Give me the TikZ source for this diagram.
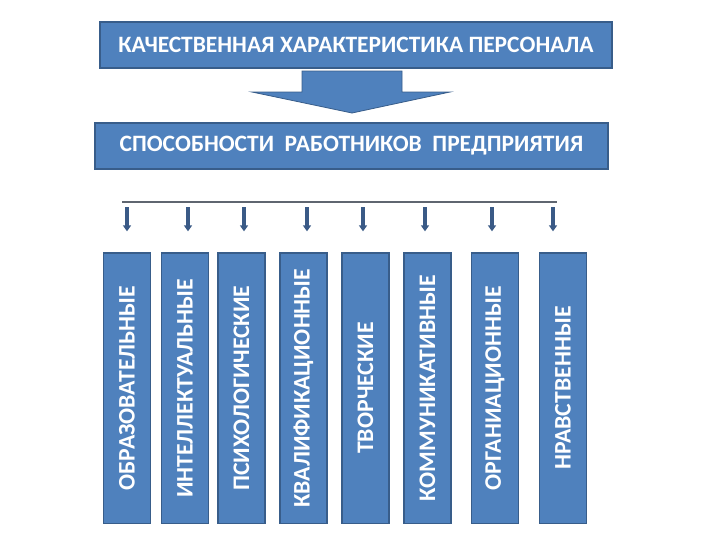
\documentclass[tikz,border=0pt]{standalone}
\usepackage{fontspec}
\setmainfont{Carlito}
\usetikzlibrary{arrows.meta}
\definecolor{boxblue}{HTML}{4F81BD}
\definecolor{boxedge}{HTML}{385D8A}
\definecolor{arrowblue}{HTML}{3A5A86}
\definecolor{linegray}{HTML}{5F6670}
\tikzset{
  headbox/.style={draw=boxedge, line width=1.2pt, fill=boxblue, text=white,
    font=\fontsize{17.6}{20}\selectfont\bfseries, minimum height=34.5pt, inner sep=0pt},
  colbox/.style={draw=boxedge, line width=1.2pt, fill=boxblue, text=white,
    font=\fontsize{17.8}{20}\selectfont\bfseries, minimum width=35pt, minimum height=203pt,
    inner sep=0pt, anchor=north},
  downarrow/.style={draw=arrowblue, line width=3pt, -{Triangle[length=4.5pt,width=6pt]}, shorten >=15.5pt}
}
\begin{document}
\begin{tikzpicture}[x=0.75pt,y=-0.75pt]
 	\useasboundingbox (0,0) rectangle (720,540);
 	% headers
 	\node[headbox, minimum width=384pt] (top) at (356,45) {КАЧЕСТВЕННАЯ ХАРАКТЕРИСТИКА ПЕРСОНАЛА};
 	\node[headbox, minimum width=385pt] (mid) at (351.5,146) {СПОСОБНОСТИ \ РАБОТНИКОВ \ ПРЕДПРИЯТИЯ};
 	\filldraw[fill=boxblue, draw=boxedge, line width=0.6pt]
 		(302,71) -- (302,92) -- (252,92) -- (352,113) -- (450,92) -- (402,92) -- (402,71) -- cycle;
 	% columns
 	\node[colbox] (b1) at (127,252) {\rotatebox{90}{ОБРАЗОВАТЕЛЬНЫЕ}};
 	\node[colbox] (b2) at (185,252) {\rotatebox{90}{ИНТЕЛЛЕКТУАЛЬНЫЕ}};
 	\node[colbox] (b3) at (241.5,252) {\rotatebox{90}{ПСИХОЛОГИЧЕСКИЕ}};
 	\node[colbox] (b4) at (303.5,252) {\rotatebox{90}{КВАЛИФИКАЦИОННЫЕ}};
 	\node[colbox] (b5) at (365.5,252) {\rotatebox{90}{ТВОРЧЕСКИЕ}};
 	\node[colbox] (b6) at (427.5,252) {\rotatebox{90}{КОММУНИКАТИВНЫЕ}};
 	\node[colbox] (b7) at (495,252) {\rotatebox{90}{ОРГАНИАЦИОННЫЕ}};
 	\node[colbox] (b8) at (563,252) {\rotatebox{90}{НРАВСТВЕННЫЕ}};
 	% distribution line
 	\coordinate (l0) at (122,202);
 	\coordinate (l9) at (557,202);
 	\draw[linegray, line width=0.9pt] (l0) -- (l9);
 	\coordinate (t1) at (127,207);
 	\coordinate (t2) at (188,207);
 	\coordinate (t3) at (244,207);
 	\coordinate (t4) at (307,207);
 	\coordinate (t5) at (363,207);
 	\coordinate (t6) at (425,207);
 	\coordinate (t7) at (492,207);
 	\coordinate (t8) at (553,207);
 	\draw[downarrow] (t1) -- (t1 |- b1.north);
 	\draw[downarrow] (t2) -- (t2 |- b2.north);
 	\draw[downarrow] (t3) -- (t3 |- b3.north);
 	\draw[downarrow] (t4) -- (t4 |- b4.north);
 	\draw[downarrow] (t5) -- (t5 |- b5.north);
 	\draw[downarrow] (t6) -- (t6 |- b6.north);
 	\draw[downarrow] (t7) -- (t7 |- b7.north);
 	\draw[downarrow] (t8) -- (t8 |- b8.north);
\end{tikzpicture}
\end{document}
